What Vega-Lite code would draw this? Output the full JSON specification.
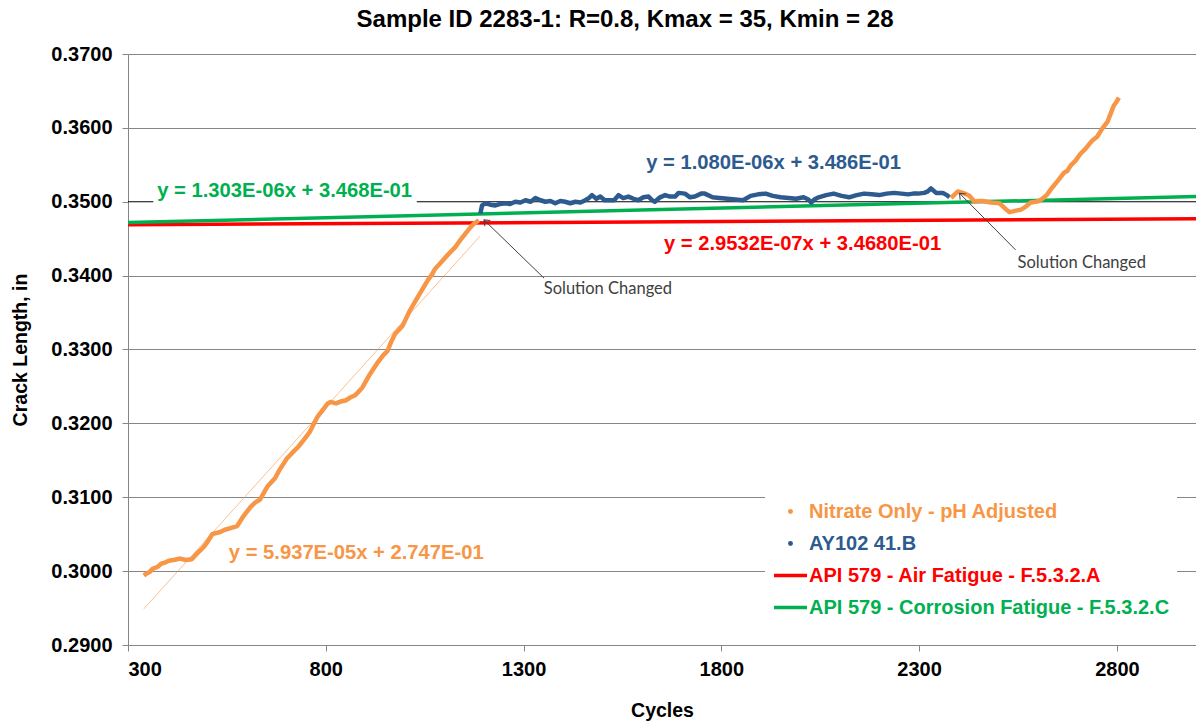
{
  "$schema": "https://vega.github.io/schema/vega-lite/v6.json",
  "width": 1068,
  "height": 591,
  "autosize": "none",
  "padding": {"left": 128, "top": 54, "right": 0, "bottom": 79},
  "background": "white",
  "title": {
    "text": "Sample ID 2283-1: R=0.8, Kmax = 35, Kmin = 28",
    "font": "Liberation Sans",
    "fontSize": 24,
    "fontWeight": "bold",
    "color": "black",
    "anchor": "middle",
    "frame": "group",
    "dx": -37,
    "offset": 12
  },
  "config": {
    "view": {"stroke": null},
    "axis": {
      "labelFont": "Liberation Sans",
      "labelFontSize": 20,
      "labelFontWeight": "bold",
      "labelColor": "black",
      "titleFont": "Liberation Sans",
      "titleFontSize": 19.5,
      "titleFontWeight": "bold",
      "titleColor": "black",
      "domainColor": "#868686",
      "tickColor": "#868686",
      "tickSize": 6,
      "gridColor": "#868686"
    }
  },
  "datasets": {
    "obs": [
      {"series": "Nitrate Only - pH Adjusted", "seg": 1, "cycles": 340, "crack": 0.2994},
      {"series": "Nitrate Only - pH Adjusted", "seg": 1, "cycles": 345, "crack": 0.2996},
      {"series": "Nitrate Only - pH Adjusted", "seg": 1, "cycles": 355, "crack": 0.2999},
      {"series": "Nitrate Only - pH Adjusted", "seg": 1, "cycles": 362, "crack": 0.3003},
      {"series": "Nitrate Only - pH Adjusted", "seg": 1, "cycles": 375, "crack": 0.3006},
      {"series": "Nitrate Only - pH Adjusted", "seg": 1, "cycles": 384, "crack": 0.3010},
      {"series": "Nitrate Only - pH Adjusted", "seg": 1, "cycles": 395, "crack": 0.3012},
      {"series": "Nitrate Only - pH Adjusted", "seg": 1, "cycles": 403, "crack": 0.3014},
      {"series": "Nitrate Only - pH Adjusted", "seg": 1, "cycles": 415, "crack": 0.3015},
      {"series": "Nitrate Only - pH Adjusted", "seg": 1, "cycles": 432, "crack": 0.3017},
      {"series": "Nitrate Only - pH Adjusted", "seg": 1, "cycles": 446, "crack": 0.3015},
      {"series": "Nitrate Only - pH Adjusted", "seg": 1, "cycles": 461, "crack": 0.3016},
      {"series": "Nitrate Only - pH Adjusted", "seg": 1, "cycles": 475, "crack": 0.3024},
      {"series": "Nitrate Only - pH Adjusted", "seg": 1, "cycles": 490, "crack": 0.3032},
      {"series": "Nitrate Only - pH Adjusted", "seg": 1, "cycles": 499, "crack": 0.3038},
      {"series": "Nitrate Only - pH Adjusted", "seg": 1, "cycles": 513, "crack": 0.3050},
      {"series": "Nitrate Only - pH Adjusted", "seg": 1, "cycles": 533, "crack": 0.3053},
      {"series": "Nitrate Only - pH Adjusted", "seg": 1, "cycles": 545, "crack": 0.3056},
      {"series": "Nitrate Only - pH Adjusted", "seg": 1, "cycles": 557, "crack": 0.3058},
      {"series": "Nitrate Only - pH Adjusted", "seg": 1, "cycles": 576, "crack": 0.3061},
      {"series": "Nitrate Only - pH Adjusted", "seg": 1, "cycles": 590, "crack": 0.3073},
      {"series": "Nitrate Only - pH Adjusted", "seg": 1, "cycles": 610, "crack": 0.3087},
      {"series": "Nitrate Only - pH Adjusted", "seg": 1, "cycles": 622, "crack": 0.3093},
      {"series": "Nitrate Only - pH Adjusted", "seg": 1, "cycles": 634, "crack": 0.3097},
      {"series": "Nitrate Only - pH Adjusted", "seg": 1, "cycles": 653, "crack": 0.3115},
      {"series": "Nitrate Only - pH Adjusted", "seg": 1, "cycles": 672, "crack": 0.3126},
      {"series": "Nitrate Only - pH Adjusted", "seg": 1, "cycles": 682, "crack": 0.3136},
      {"series": "Nitrate Only - pH Adjusted", "seg": 1, "cycles": 701, "crack": 0.3152},
      {"series": "Nitrate Only - pH Adjusted", "seg": 1, "cycles": 715, "crack": 0.3160},
      {"series": "Nitrate Only - pH Adjusted", "seg": 1, "cycles": 730, "crack": 0.3168},
      {"series": "Nitrate Only - pH Adjusted", "seg": 1, "cycles": 745, "crack": 0.3178},
      {"series": "Nitrate Only - pH Adjusted", "seg": 1, "cycles": 759, "crack": 0.3188},
      {"series": "Nitrate Only - pH Adjusted", "seg": 1, "cycles": 778, "crack": 0.3208},
      {"series": "Nitrate Only - pH Adjusted", "seg": 1, "cycles": 792, "crack": 0.3218},
      {"series": "Nitrate Only - pH Adjusted", "seg": 1, "cycles": 805, "crack": 0.3227},
      {"series": "Nitrate Only - pH Adjusted", "seg": 1, "cycles": 812, "crack": 0.3229},
      {"series": "Nitrate Only - pH Adjusted", "seg": 1, "cycles": 826, "crack": 0.3227},
      {"series": "Nitrate Only - pH Adjusted", "seg": 1, "cycles": 840, "crack": 0.3230},
      {"series": "Nitrate Only - pH Adjusted", "seg": 1, "cycles": 850, "crack": 0.3231},
      {"series": "Nitrate Only - pH Adjusted", "seg": 1, "cycles": 862, "crack": 0.3235},
      {"series": "Nitrate Only - pH Adjusted", "seg": 1, "cycles": 874, "crack": 0.3238},
      {"series": "Nitrate Only - pH Adjusted", "seg": 1, "cycles": 885, "crack": 0.3244},
      {"series": "Nitrate Only - pH Adjusted", "seg": 1, "cycles": 893, "crack": 0.3249},
      {"series": "Nitrate Only - pH Adjusted", "seg": 1, "cycles": 912, "crack": 0.3267},
      {"series": "Nitrate Only - pH Adjusted", "seg": 1, "cycles": 932, "crack": 0.3283},
      {"series": "Nitrate Only - pH Adjusted", "seg": 1, "cycles": 945, "crack": 0.3292},
      {"series": "Nitrate Only - pH Adjusted", "seg": 1, "cycles": 956, "crack": 0.3298},
      {"series": "Nitrate Only - pH Adjusted", "seg": 1, "cycles": 965, "crack": 0.3310},
      {"series": "Nitrate Only - pH Adjusted", "seg": 1, "cycles": 975, "crack": 0.3321},
      {"series": "Nitrate Only - pH Adjusted", "seg": 1, "cycles": 994, "crack": 0.3332},
      {"series": "Nitrate Only - pH Adjusted", "seg": 1, "cycles": 1013, "crack": 0.3353},
      {"series": "Nitrate Only - pH Adjusted", "seg": 1, "cycles": 1025, "crack": 0.3364},
      {"series": "Nitrate Only - pH Adjusted", "seg": 1, "cycles": 1037, "crack": 0.3375},
      {"series": "Nitrate Only - pH Adjusted", "seg": 1, "cycles": 1057, "crack": 0.3393},
      {"series": "Nitrate Only - pH Adjusted", "seg": 1, "cycles": 1069, "crack": 0.3402},
      {"series": "Nitrate Only - pH Adjusted", "seg": 1, "cycles": 1076, "crack": 0.3409},
      {"series": "Nitrate Only - pH Adjusted", "seg": 1, "cycles": 1090, "crack": 0.3417},
      {"series": "Nitrate Only - pH Adjusted", "seg": 1, "cycles": 1103, "crack": 0.3425},
      {"series": "Nitrate Only - pH Adjusted", "seg": 1, "cycles": 1119, "crack": 0.3434},
      {"series": "Nitrate Only - pH Adjusted", "seg": 1, "cycles": 1128, "crack": 0.3439},
      {"series": "Nitrate Only - pH Adjusted", "seg": 1, "cycles": 1140, "crack": 0.3448},
      {"series": "Nitrate Only - pH Adjusted", "seg": 1, "cycles": 1153, "crack": 0.3457},
      {"series": "Nitrate Only - pH Adjusted", "seg": 1, "cycles": 1165, "crack": 0.3465},
      {"series": "Nitrate Only - pH Adjusted", "seg": 1, "cycles": 1174, "crack": 0.3470},
      {"series": "Nitrate Only - pH Adjusted", "seg": 1, "cycles": 1187, "crack": 0.3475},
      {"series": "AY102 41.B", "seg": 2, "cycles": 1191, "crack": 0.3484},
      {"series": "AY102 41.B", "seg": 2, "cycles": 1195, "crack": 0.3495},
      {"series": "AY102 41.B", "seg": 2, "cycles": 1204, "crack": 0.3498},
      {"series": "AY102 41.B", "seg": 2, "cycles": 1216, "crack": 0.3496},
      {"series": "AY102 41.B", "seg": 2, "cycles": 1229, "crack": 0.3495},
      {"series": "AY102 41.B", "seg": 2, "cycles": 1241, "crack": 0.3497},
      {"series": "AY102 41.B", "seg": 2, "cycles": 1254, "crack": 0.3498},
      {"series": "AY102 41.B", "seg": 2, "cycles": 1266, "crack": 0.3497},
      {"series": "AY102 41.B", "seg": 2, "cycles": 1279, "crack": 0.3500},
      {"series": "AY102 41.B", "seg": 2, "cycles": 1292, "crack": 0.3499},
      {"series": "AY102 41.B", "seg": 2, "cycles": 1305, "crack": 0.3502},
      {"series": "AY102 41.B", "seg": 2, "cycles": 1318, "crack": 0.3500},
      {"series": "AY102 41.B", "seg": 2, "cycles": 1330, "crack": 0.3505},
      {"series": "AY102 41.B", "seg": 2, "cycles": 1343, "crack": 0.3502},
      {"series": "AY102 41.B", "seg": 2, "cycles": 1355, "crack": 0.3500},
      {"series": "AY102 41.B", "seg": 2, "cycles": 1368, "crack": 0.3501},
      {"series": "AY102 41.B", "seg": 2, "cycles": 1380, "crack": 0.3498},
      {"series": "AY102 41.B", "seg": 2, "cycles": 1393, "crack": 0.3501},
      {"series": "AY102 41.B", "seg": 2, "cycles": 1405, "crack": 0.3500},
      {"series": "AY102 41.B", "seg": 2, "cycles": 1418, "crack": 0.3498},
      {"series": "AY102 41.B", "seg": 2, "cycles": 1431, "crack": 0.3500},
      {"series": "AY102 41.B", "seg": 2, "cycles": 1444, "crack": 0.3499},
      {"series": "AY102 41.B", "seg": 2, "cycles": 1456, "crack": 0.3502},
      {"series": "AY102 41.B", "seg": 2, "cycles": 1465, "crack": 0.3505},
      {"series": "AY102 41.B", "seg": 2, "cycles": 1473, "crack": 0.3509},
      {"series": "AY102 41.B", "seg": 2, "cycles": 1484, "crack": 0.3504},
      {"series": "AY102 41.B", "seg": 2, "cycles": 1494, "crack": 0.3507},
      {"series": "AY102 41.B", "seg": 2, "cycles": 1505, "crack": 0.3502},
      {"series": "AY102 41.B", "seg": 2, "cycles": 1515, "crack": 0.3502},
      {"series": "AY102 41.B", "seg": 2, "cycles": 1529, "crack": 0.3502},
      {"series": "AY102 41.B", "seg": 2, "cycles": 1540, "crack": 0.3509},
      {"series": "AY102 41.B", "seg": 2, "cycles": 1552, "crack": 0.3505},
      {"series": "AY102 41.B", "seg": 2, "cycles": 1565, "crack": 0.3507},
      {"series": "AY102 41.B", "seg": 2, "cycles": 1578, "crack": 0.3504},
      {"series": "AY102 41.B", "seg": 2, "cycles": 1590, "crack": 0.3502},
      {"series": "AY102 41.B", "seg": 2, "cycles": 1603, "crack": 0.3506},
      {"series": "AY102 41.B", "seg": 2, "cycles": 1616, "crack": 0.3507},
      {"series": "AY102 41.B", "seg": 2, "cycles": 1625, "crack": 0.3502},
      {"series": "AY102 41.B", "seg": 2, "cycles": 1632, "crack": 0.3500},
      {"series": "AY102 41.B", "seg": 2, "cycles": 1645, "crack": 0.3506},
      {"series": "AY102 41.B", "seg": 2, "cycles": 1658, "crack": 0.3509},
      {"series": "AY102 41.B", "seg": 2, "cycles": 1670, "crack": 0.3507},
      {"series": "AY102 41.B", "seg": 2, "cycles": 1683, "crack": 0.3507},
      {"series": "AY102 41.B", "seg": 2, "cycles": 1692, "crack": 0.3512},
      {"series": "AY102 41.B", "seg": 2, "cycles": 1708, "crack": 0.3511},
      {"series": "AY102 41.B", "seg": 2, "cycles": 1721, "crack": 0.3506},
      {"series": "AY102 41.B", "seg": 2, "cycles": 1733, "crack": 0.3507},
      {"series": "AY102 41.B", "seg": 2, "cycles": 1749, "crack": 0.3511},
      {"series": "AY102 41.B", "seg": 2, "cycles": 1758, "crack": 0.3511},
      {"series": "AY102 41.B", "seg": 2, "cycles": 1778, "crack": 0.3506},
      {"series": "AY102 41.B", "seg": 2, "cycles": 1795, "crack": 0.3505},
      {"series": "AY102 41.B", "seg": 2, "cycles": 1816, "crack": 0.3504},
      {"series": "AY102 41.B", "seg": 2, "cycles": 1835, "crack": 0.3503},
      {"series": "AY102 41.B", "seg": 2, "cycles": 1855, "crack": 0.3502},
      {"series": "AY102 41.B", "seg": 2, "cycles": 1874, "crack": 0.3508},
      {"series": "AY102 41.B", "seg": 2, "cycles": 1893, "crack": 0.3510},
      {"series": "AY102 41.B", "seg": 2, "cycles": 1912, "crack": 0.3511},
      {"series": "AY102 41.B", "seg": 2, "cycles": 1930, "crack": 0.3508},
      {"series": "AY102 41.B", "seg": 2, "cycles": 1950, "crack": 0.3506},
      {"series": "AY102 41.B", "seg": 2, "cycles": 1970, "crack": 0.3505},
      {"series": "AY102 41.B", "seg": 2, "cycles": 1989, "crack": 0.3504},
      {"series": "AY102 41.B", "seg": 2, "cycles": 2008, "crack": 0.3506},
      {"series": "AY102 41.B", "seg": 2, "cycles": 2020, "crack": 0.3503},
      {"series": "AY102 41.B", "seg": 2, "cycles": 2027, "crack": 0.3499},
      {"series": "AY102 41.B", "seg": 2, "cycles": 2035, "crack": 0.3503},
      {"series": "AY102 41.B", "seg": 2, "cycles": 2046, "crack": 0.3506},
      {"series": "AY102 41.B", "seg": 2, "cycles": 2065, "crack": 0.3509},
      {"series": "AY102 41.B", "seg": 2, "cycles": 2084, "crack": 0.3511},
      {"series": "AY102 41.B", "seg": 2, "cycles": 2104, "crack": 0.3508},
      {"series": "AY102 41.B", "seg": 2, "cycles": 2123, "crack": 0.3506},
      {"series": "AY102 41.B", "seg": 2, "cycles": 2142, "crack": 0.3509},
      {"series": "AY102 41.B", "seg": 2, "cycles": 2161, "crack": 0.3511},
      {"series": "AY102 41.B", "seg": 2, "cycles": 2180, "crack": 0.3510},
      {"series": "AY102 41.B", "seg": 2, "cycles": 2199, "crack": 0.3509},
      {"series": "AY102 41.B", "seg": 2, "cycles": 2218, "crack": 0.3511},
      {"series": "AY102 41.B", "seg": 2, "cycles": 2237, "crack": 0.3512},
      {"series": "AY102 41.B", "seg": 2, "cycles": 2255, "crack": 0.3511},
      {"series": "AY102 41.B", "seg": 2, "cycles": 2272, "crack": 0.3510},
      {"series": "AY102 41.B", "seg": 2, "cycles": 2285, "crack": 0.3511},
      {"series": "AY102 41.B", "seg": 2, "cycles": 2297, "crack": 0.3511},
      {"series": "AY102 41.B", "seg": 2, "cycles": 2313, "crack": 0.3512},
      {"series": "AY102 41.B", "seg": 2, "cycles": 2322, "crack": 0.3514},
      {"series": "AY102 41.B", "seg": 2, "cycles": 2330, "crack": 0.3518},
      {"series": "AY102 41.B", "seg": 2, "cycles": 2343, "crack": 0.3512},
      {"series": "AY102 41.B", "seg": 2, "cycles": 2360, "crack": 0.3512},
      {"series": "AY102 41.B", "seg": 2, "cycles": 2370, "crack": 0.3509},
      {"series": "AY102 41.B", "seg": 2, "cycles": 2377, "crack": 0.3506},
      {"series": "Nitrate Only - pH Adjusted", "seg": 3, "cycles": 2381, "crack": 0.3505},
      {"series": "Nitrate Only - pH Adjusted", "seg": 3, "cycles": 2390, "crack": 0.3510},
      {"series": "Nitrate Only - pH Adjusted", "seg": 3, "cycles": 2398, "crack": 0.3514},
      {"series": "Nitrate Only - pH Adjusted", "seg": 3, "cycles": 2410, "crack": 0.3512},
      {"series": "Nitrate Only - pH Adjusted", "seg": 3, "cycles": 2420, "crack": 0.3510},
      {"series": "Nitrate Only - pH Adjusted", "seg": 3, "cycles": 2427, "crack": 0.3508},
      {"series": "Nitrate Only - pH Adjusted", "seg": 3, "cycles": 2440, "crack": 0.3500},
      {"series": "Nitrate Only - pH Adjusted", "seg": 3, "cycles": 2450, "crack": 0.3501},
      {"series": "Nitrate Only - pH Adjusted", "seg": 3, "cycles": 2461, "crack": 0.3501},
      {"series": "Nitrate Only - pH Adjusted", "seg": 3, "cycles": 2482, "crack": 0.3499},
      {"series": "Nitrate Only - pH Adjusted", "seg": 3, "cycles": 2503, "crack": 0.3498},
      {"series": "Nitrate Only - pH Adjusted", "seg": 3, "cycles": 2515, "crack": 0.3492},
      {"series": "Nitrate Only - pH Adjusted", "seg": 3, "cycles": 2528, "crack": 0.3486},
      {"series": "Nitrate Only - pH Adjusted", "seg": 3, "cycles": 2537, "crack": 0.3487},
      {"series": "Nitrate Only - pH Adjusted", "seg": 3, "cycles": 2545, "crack": 0.3488},
      {"series": "Nitrate Only - pH Adjusted", "seg": 3, "cycles": 2556, "crack": 0.3489},
      {"series": "Nitrate Only - pH Adjusted", "seg": 3, "cycles": 2566, "crack": 0.3492},
      {"series": "Nitrate Only - pH Adjusted", "seg": 3, "cycles": 2582, "crack": 0.3499},
      {"series": "Nitrate Only - pH Adjusted", "seg": 3, "cycles": 2595, "crack": 0.3500},
      {"series": "Nitrate Only - pH Adjusted", "seg": 3, "cycles": 2603, "crack": 0.3501},
      {"series": "Nitrate Only - pH Adjusted", "seg": 3, "cycles": 2616, "crack": 0.3506},
      {"series": "Nitrate Only - pH Adjusted", "seg": 3, "cycles": 2624, "crack": 0.3510},
      {"series": "Nitrate Only - pH Adjusted", "seg": 3, "cycles": 2633, "crack": 0.3517},
      {"series": "Nitrate Only - pH Adjusted", "seg": 3, "cycles": 2650, "crack": 0.3528},
      {"series": "Nitrate Only - pH Adjusted", "seg": 3, "cycles": 2666, "crack": 0.3539},
      {"series": "Nitrate Only - pH Adjusted", "seg": 3, "cycles": 2675, "crack": 0.3542},
      {"series": "Nitrate Only - pH Adjusted", "seg": 3, "cycles": 2683, "crack": 0.3549},
      {"series": "Nitrate Only - pH Adjusted", "seg": 3, "cycles": 2696, "crack": 0.3556},
      {"series": "Nitrate Only - pH Adjusted", "seg": 3, "cycles": 2708, "crack": 0.3565},
      {"series": "Nitrate Only - pH Adjusted", "seg": 3, "cycles": 2721, "crack": 0.3572},
      {"series": "Nitrate Only - pH Adjusted", "seg": 3, "cycles": 2730, "crack": 0.3578},
      {"series": "Nitrate Only - pH Adjusted", "seg": 3, "cycles": 2738, "crack": 0.3583},
      {"series": "Nitrate Only - pH Adjusted", "seg": 3, "cycles": 2750, "crack": 0.3588},
      {"series": "Nitrate Only - pH Adjusted", "seg": 3, "cycles": 2763, "crack": 0.3599},
      {"series": "Nitrate Only - pH Adjusted", "seg": 3, "cycles": 2776, "crack": 0.3608},
      {"series": "Nitrate Only - pH Adjusted", "seg": 3, "cycles": 2784, "crack": 0.3619},
      {"series": "Nitrate Only - pH Adjusted", "seg": 3, "cycles": 2792, "crack": 0.3630},
      {"series": "Nitrate Only - pH Adjusted", "seg": 3, "cycles": 2800, "crack": 0.3636},
      {"series": "Nitrate Only - pH Adjusted", "seg": 3, "cycles": 2805, "crack": 0.3641}
    ],
    "api": [
      {"series": "API 579 - Air Fatigue - F.5.3.2.A", "seg": 4, "cycles": 300, "crack": 0.346889},
      {"series": "API 579 - Air Fatigue - F.5.3.2.A", "seg": 4, "cycles": 3000, "crack": 0.347686},
      {"series": "API 579 - Corrosion Fatigue - F.5.3.2.C", "seg": 5, "cycles": 300, "crack": 0.347191},
      {"series": "API 579 - Corrosion Fatigue - F.5.3.2.C", "seg": 5, "cycles": 3000, "crack": 0.350709}
    ],
    "trend": [
      {"cycles": 340, "crack": 0.29489},
      {"cycles": 1190, "crack": 0.34535}
    ],
    "blackline": [
      {"x1": 300, "x2": 364, "y": 0.35},
      {"x1": 1030, "x2": 3000, "y": 0.35}
    ],
    "labels": [
      {"text": "y = 1.303E-06x + 3.468E-01", "cycles": 374, "crack": 0.3506, "color": "#00B050"},
      {"text": "y = 1.080E-06x + 3.486E-01", "cycles": 1610, "crack": 0.35449, "color": "#2E5B8F"},
      {"text": "y = 2.9532E-07x + 3.4680E-01", "cycles": 1655, "crack": 0.34348, "color": "#FF0000"},
      {"text": "y = 5.937E-05x + 2.747E-01", "cycles": 555, "crack": 0.30170, "color": "#F79646"}
    ],
    "notes": [
      {"text": "Solution Changed", "cycles": 1351, "crack": 0.33752},
      {"text": "Solution Changed", "cycles": 2549, "crack": 0.34104}
    ],
    "arrows": [
      {"tx": 1352, "ty": 0.33965, "hx": 1200, "hy": 0.34754, "angle": 314},
      {"tx": 2544, "ty": 0.34348, "hx": 2402, "hy": 0.35115, "angle": 315}
    ]
  },
  "layer": [
    {
      "data": {"name": "blackline"},
      "mark": {"type": "rule", "color": "black", "strokeWidth": 1},
      "encoding": {
        "x": {"field": "x1", "type": "quantitative", "scale": {"domain": [300, 3000], "nice": false, "zero": false},
          "axis": {"values": [300, 800, 1300, 1800, 2300, 2800], "format": "d", "grid": false, "title": "Cycles", "labelPadding": 8, "titlePadding": 22}},
        "x2": {"field": "x2"},
        "y": {"field": "y", "type": "quantitative", "scale": {"domain": [0.29, 0.37], "nice": false, "zero": false},
          "axis": {"values": [0.29, 0.30, 0.31, 0.32, 0.33, 0.34, 0.35, 0.36, 0.37], "format": ".4f", "grid": true,
            "gridColor": {"condition": {"test": "abs(datum.value - 0.35) < 0.000001", "value": "transparent"}, "value": "#868686"},
            "title": "Crack Length, in", "labelPadding": 10, "titlePadding": 20}}
      }
    },
    {
      "data": {"name": "api"},
      "mark": {"type": "line", "strokeWidth": 3.5},
      "encoding": {
        "x": {"field": "cycles", "type": "quantitative"},
        "y": {"field": "crack", "type": "quantitative"},
        "detail": {"field": "seg", "type": "nominal"},
        "color": {"field": "series", "type": "nominal"}
      }
    },
    {
      "data": {"name": "trend"},
      "mark": {"type": "line", "color": "#F79646", "strokeWidth": 1, "opacity": 0.6},
      "encoding": {
        "x": {"field": "cycles", "type": "quantitative"},
        "y": {"field": "crack", "type": "quantitative"}
      }
    },
    {
      "data": {"name": "obs"},
      "mark": {"type": "line", "strokeWidth": 4.5, "strokeJoin": "round"},
      "encoding": {
        "x": {"field": "cycles", "type": "quantitative"},
        "y": {"field": "crack", "type": "quantitative"},
        "detail": {"field": "seg", "type": "nominal"},
        "color": {
          "field": "series", "type": "nominal",
          "scale": {
            "domain": ["Nitrate Only - pH Adjusted", "AY102 41.B", "API 579 - Air Fatigue - F.5.3.2.A", "API 579 - Corrosion Fatigue - F.5.3.2.C"],
            "range": ["#F79646", "#2E5B8F", "#FF0000", "#00B050"]
          },
          "legend": {
            "title": null,
            "orient": "none",
            "legendX": 637,
            "legendY": 432,
            "fillColor": "white",
            "padding": 7,
            "labelFont": "Liberation Sans",
            "labelFontSize": 20,
            "labelFontWeight": "bold",
            "labelOffset": 0,
            "labelLimit": 500,
            "labelColor": {"expr": "scale('color', datum.value)"},
            "symbolSize": 1089,
            "symbolType": {"expr": "indexof(datum.value, 'API') === 0 ? 'stroke' : 'M-0.045,0A0.045,0.045 0 1,0 0.045,0A0.045,0.045 0 1,0 -0.045,0ZM-0.045,0L0.045,0M0,-0.045L0,0.045'"},
            "symbolStrokeWidth": 3.5,
            "rowPadding": 3
          }
        }
      }
    },
    {
      "data": {"name": "labels"},
      "mark": {"type": "text", "font": "Liberation Sans", "fontSize": 20.2, "fontWeight": "bold", "align": "left", "baseline": "alphabetic"},
      "encoding": {
        "x": {"field": "cycles", "type": "quantitative"},
        "y": {"field": "crack", "type": "quantitative"},
        "text": {"field": "text"},
        "fill": {"field": "color", "type": "nominal", "scale": null}
      }
    },
    {
      "data": {"name": "arrows"},
      "mark": {"type": "rule", "color": "#404040", "strokeWidth": 1},
      "encoding": {
        "x": {"field": "tx", "type": "quantitative"},
        "y": {"field": "ty", "type": "quantitative"},
        "x2": {"field": "hx"},
        "y2": {"field": "hy"}
      }
    },
    {
      "data": {"name": "arrows"},
      "mark": {"type": "point", "shape": "M-0.8,1L0,0L0.8,1", "filled": false, "stroke": "#404040", "strokeWidth": 1, "size": 100, "opacity": 1},
      "encoding": {
        "x": {"field": "hx", "type": "quantitative"},
        "y": {"field": "hy", "type": "quantitative"},
        "angle": {"field": "angle", "type": "quantitative", "scale": null}
      }
    },
    {
      "data": {"name": "notes"},
      "mark": {"type": "text", "font": "Lato", "fontSize": 16.5, "color": "#404040", "align": "left", "baseline": "alphabetic"},
      "encoding": {
        "x": {"field": "cycles", "type": "quantitative"},
        "y": {"field": "crack", "type": "quantitative"},
        "text": {"field": "text"}
      }
    }
  ]
}
